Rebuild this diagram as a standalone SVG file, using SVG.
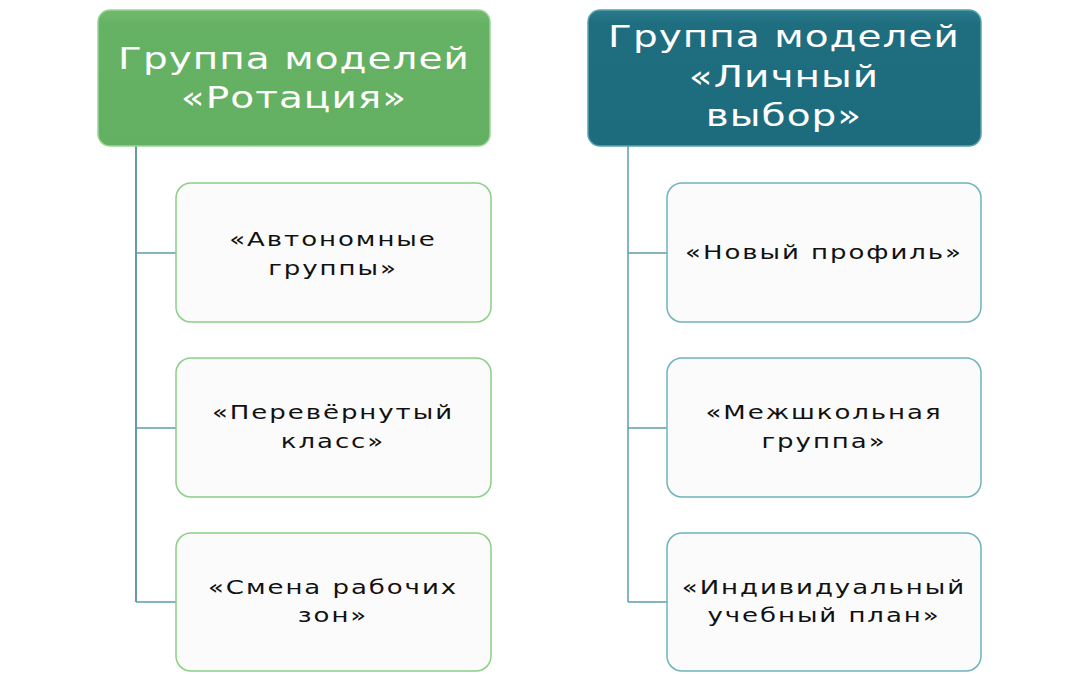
<svg xmlns="http://www.w3.org/2000/svg" width="1067" height="674" viewBox="0 0 1067 674">
<style>
.hdr{font-family:"DejaVu Sans","Open Sans",sans-serif;font-size:30px;fill:#ffffff;text-anchor:middle;letter-spacing:0.8px}
.lbl{font-family:"DejaVu Sans","Open Sans",sans-serif;font-size:20px;fill:#111111;text-anchor:middle;letter-spacing:1.5px}
.cg{fill:#fbfbfb;stroke:#8ccf86;stroke-width:1.5}
.ct{fill:#fbfbfb;stroke:#6fb4bc;stroke-width:1.5}
.con{fill:none;stroke-width:1.5}
</style>
<defs>
<linearGradient id="gG" x1="0" y1="0" x2="0" y2="1">
<stop offset="0" stop-color="#70ba6d"/><stop offset="0.1" stop-color="#66b264"/><stop offset="1" stop-color="#64b062"/>
</linearGradient>
<linearGradient id="gT" x1="0" y1="0" x2="0" y2="1">
<stop offset="0" stop-color="#2a7a8b"/><stop offset="0.1" stop-color="#1f6e80"/><stop offset="1" stop-color="#1d6c7e"/>
</linearGradient>
</defs>
<rect width="1067" height="674" fill="#ffffff"/>
<g id="connectors">
<path class="con" stroke="#2f7b8a" d="M136 146 V602"/>
<path class="con" stroke="#5f9ea8" d="M136 253 H176 M136 428 H176 M136 602 H176"/>
<path class="con" stroke="#5f9ea8" d="M628 146 V602 M628 253 H667 M628 428 H667 M628 602 H667"/>
</g>
<g id="h1">
<rect x="98" y="10" width="392" height="136" rx="12" fill="url(#gG)" stroke="#9ad596" stroke-width="1.5"/>
<text class="hdr" transform="translate(294 69) scale(1.3 1)">Группа моделей</text>
<text class="hdr" transform="translate(294 108) scale(1.3 1)">«Ротация»</text>
</g>
<g id="h2">
<rect x="588" y="10" width="393" height="136" rx="12" fill="url(#gT)" stroke="#5aa3b0" stroke-width="1.5"/>
<text class="hdr" transform="translate(784 47) scale(1.3 1)">Группа моделей</text>
<text class="hdr" transform="translate(784 87) scale(1.3 1)">«Личный</text>
<text class="hdr" transform="translate(784 126) scale(1.3 1)">выбор»</text>
</g>
<g id="c1">
<rect class="cg" x="176" y="183" width="315" height="139" rx="15"/>
<text class="lbl" transform="translate(333 246) scale(1.3 1)">«Автономные</text>
<text class="lbl" transform="translate(333 275) scale(1.3 1)">группы»</text>
</g>
<g id="c2">
<rect class="cg" x="176" y="358" width="315" height="139" rx="15"/>
<text class="lbl" transform="translate(333 419) scale(1.3 1)">«Перевёрнутый</text>
<text class="lbl" transform="translate(333 448) scale(1.3 1)">класс»</text>
</g>
<g id="c3">
<rect class="cg" x="176" y="533" width="315" height="138" rx="15"/>
<text class="lbl" transform="translate(333 594) scale(1.3 1)">«Смена рабочих</text>
<text class="lbl" transform="translate(333 622) scale(1.3 1)">зон»</text>
</g>
<g id="c4">
<rect class="ct" x="667" y="183" width="314" height="139" rx="15"/>
<text class="lbl" transform="translate(824 259) scale(1.3 1)">«Новый профиль»</text>
</g>
<g id="c5">
<rect class="ct" x="667" y="358" width="314" height="139" rx="15"/>
<text class="lbl" transform="translate(824 419) scale(1.3 1)">«Межшкольная</text>
<text class="lbl" transform="translate(824 448) scale(1.3 1)">группа»</text>
</g>
<g id="c6">
<rect class="ct" x="667" y="533" width="314" height="138" rx="15"/>
<text class="lbl" transform="translate(824 594) scale(1.3 1)">«Индивидуальный</text>
<text class="lbl" transform="translate(824 622) scale(1.3 1)">учебный план»</text>
</g>
</svg>
